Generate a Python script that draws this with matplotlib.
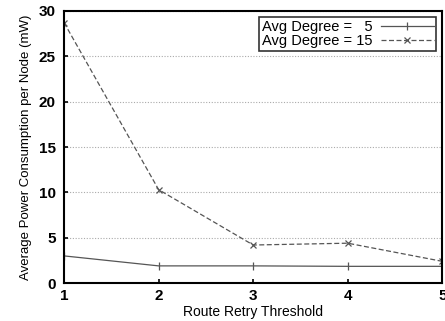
import matplotlib
matplotlib.use("Agg")
import matplotlib.pyplot as plt

x = [1, 2, 3, 4, 5]
deg5 = [3.0, 1.9, 1.9, 1.85, 1.85]
deg15 = [28.7, 10.3, 4.2, 4.4, 2.4]
labels = ["Avg Degree =   5", "Avg Degree = 15"]

plt.rcParams['font.family'] = ['Liberation Sans', 'DejaVu Sans']
fig = plt.figure(figsize=(4.45, 3.21), dpi=100)
ax = fig.add_axes([0.144, 0.118, 0.850, 0.848])

ax.plot(x, deg5, color='#555555', lw=0.9, marker='|', ms=6, mew=0.9, label=labels[0])
ax.plot(x, deg15, color='#555555', lw=0.9, ls=(0, (4, 2)), marker='x', ms=5, mew=0.9, label=labels[1])

ax.set_xlim(1, 5)
ax.set_ylim(0, 30)
ax.set_xticks(x)
ax.set_yticks([0, 5, 10, 15, 20, 25, 30])
ax.yaxis.grid(True, color='#aaaaaa', ls=(0, (1, 1.5)), lw=0.8)
ax.tick_params(direction='in', length=3, labelsize=11, width=1.2)
ax.tick_params(axis='y', pad=6)
ax.tick_params(axis='x', pad=4)
for lab in ax.get_xticklabels() + ax.get_yticklabels():
    lab.set_fontweight('bold')
for s in ax.spines.values():
    s.set_linewidth(1.5)

ax.set_xlabel("Route Retry Threshold", fontsize=10, labelpad=2)
ax.set_ylabel("Average Power Consumption per Node (mW)", fontsize=9.5, labelpad=5)

leg = ax.legend(loc='upper right', markerfirst=False, frameon=True, fancybox=False,
                edgecolor='black', fontsize=10.5, borderpad=0.2, labelspacing=0.0,
                handlelength=3.6, handletextpad=0.6, borderaxespad=0.4)
leg.get_frame().set_linewidth(1.2)
for t in leg.get_texts():
    t.set_ha('right')

fig.savefig("out.png", dpi=100)
